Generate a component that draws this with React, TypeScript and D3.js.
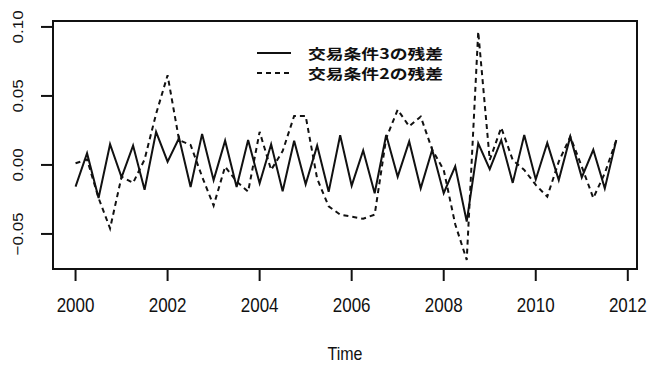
import * as d3 from 'd3'

// quarterly residuals, 2000Q1 .. 2011Q4
const startYear = 2000
const freq = 4
const resid3 = [
  -0.0157, 0.0085, -0.024, 0.015, -0.009, 0.014, -0.018, 0.024,
  0.0024, 0.0195, -0.016, 0.0225, -0.011, 0.0176, -0.016, 0.018,
  -0.0133, 0.015, -0.019, 0.0176, -0.014, 0.014, -0.0195, 0.0215,
  -0.015, 0.0105, -0.0205, 0.0217, -0.0085, 0.017, -0.017, 0.011,
  -0.0205, -0.001, -0.041, 0.0157, -0.003, 0.018, -0.013, 0.0217,
  -0.0105, 0.016, -0.011, 0.0205, -0.009, 0.011, -0.017, 0.018,
]
const resid2 = [
  0.0012, 0.004, -0.024, -0.046, -0.0085, -0.013, 0.004, 0.037,
  0.065, 0.018, 0.0145, -0.0085, -0.0295, -0.0012, -0.012, -0.0193,
  0.024, -0.0036, 0.01, 0.0355, 0.0355, -0.01, -0.03, -0.036,
  -0.0375, -0.039, -0.036, 0.0193, 0.04, 0.028, 0.035, 0.011,
  -0.0036, -0.043, -0.0688, 0.0966, 0.0036, 0.027, 0.0036, -0.0036,
  -0.0145, -0.023, 0.0024, 0.0205, -0.0012, -0.024, -0.006, 0.018,
]
const xTicks = [2000, 2002, 2004, 2006, 2008, 2010, 2012]
const yTicks = [-0.05, 0.0, 0.05, 0.1]
const legendLabels = ['交易条件3の残差', '交易条件2の残差']
const xTitle = 'Time'

const W = 649
const H = 365
const box = { left: 53, right: 637, top: 21, bottom: 269 }

export default function App() {
  const x = d3.scaleLinear().domain([1999.51, 2012.2]).range([box.left, box.right])
  const y = d3.scaleLinear().domain([-0.0754, 0.1043]).range([box.bottom, box.top])

  const line = d3.line<number>()
    .x((_, i) => x(startYear + i / freq))
    .y(d => y(d))

  const font = '"Liberation Sans", Arial, sans-serif'
  const cjk = '"Noto Sans CJK JP", "Noto Sans CJK SC", sans-serif'

  return (
    <svg
      width={W}
      height={H}
      style={{ position: 'absolute', left: 0, top: 0, background: '#fff' }}
    >
      <rect x={0} y={0} width={W} height={H} fill="#fff" />

      {/* series */}
      <path d={line(resid3) ?? ''} fill="none" stroke="#111" strokeWidth={2} />
      <path d={line(resid2) ?? ''} fill="none" stroke="#111" strokeWidth={2} strokeDasharray="5,4" />

      {/* plot box */}
      <rect
        x={box.left}
        y={box.top}
        width={box.right - box.left}
        height={box.bottom - box.top}
        fill="none"
        stroke="#111"
        strokeWidth={2}
      />

      {/* x axis */}
      {xTicks.map(t => (
        <g key={t}>
          <line x1={x(t)} x2={x(t)} y1={box.bottom} y2={box.bottom + 12} stroke="#111" strokeWidth={2} />
          <text
            transform={`translate(${x(t)},${312}) scale(1,1.2)`}
            textAnchor="middle"
            fontFamily={font}
            fontSize={17}
            fill="#111"
          >
            {t}
          </text>
        </g>
      ))}
      <text
        transform={`translate(${(box.left + box.right) / 2},${360}) scale(1,1.2)`}
        textAnchor="middle"
        fontFamily={font}
        fontSize={16}
        fill="#111"
      >
        {xTitle}
      </text>

      {/* y axis */}
      {yTicks.map(t => (
        <g key={t}>
          <line x1={box.left - 12} x2={box.left} y1={y(t)} y2={y(t)} stroke="#111" strokeWidth={2} />
          <text
            transform={`translate(${23},${y(t)}) rotate(-90) scale(1,0.9)`}
            textAnchor="middle"
            fontFamily={font}
            fontSize={17}
            fill="#111"
          >
            {d3.format('.2f')(t)}
          </text>
        </g>
      ))}

      {/* legend */}
      {legendLabels.map((lab, i) => (
        <g key={lab} transform={`translate(0,${53 + i * 20})`}>
          <line
            x1={257}
            x2={291}
            y1={0}
            y2={0}
            stroke="#111"
            strokeWidth={2}
            strokeDasharray={i === 0 ? undefined : '5,4'}
          />
          <text
            x={308}
            y={5.5}
            fontFamily={cjk}
            fontWeight={700}
            fontSize={14}
            textLength={135}
            lengthAdjust="spacingAndGlyphs"
            fill="#111"
          >
            {lab}
          </text>
        </g>
      ))}
    </svg>
  )
}
